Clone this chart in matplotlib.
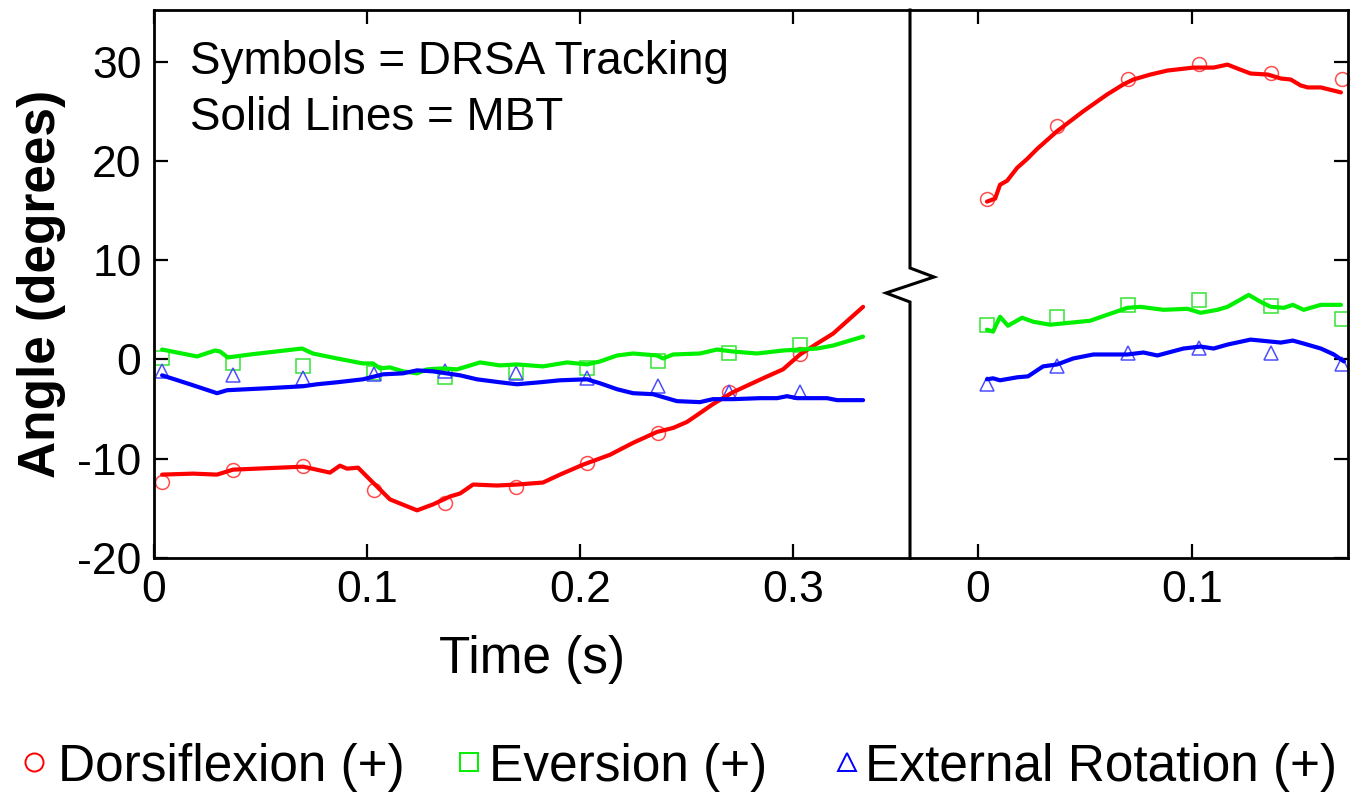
import matplotlib
matplotlib.use("Agg")
import matplotlib.pyplot as plt
from matplotlib.lines import Line2D

plt.rcParams['font.family'] = ['Liberation Sans', 'DejaVu Sans']
plt.rcParams['axes.unicode_minus'] = False

# ---------------- data: left segment (MBT lines) ----------------
t_dors_L = [0.0038, 0.0183, 0.0296, 0.0371, 0.0700, 0.0826, 0.0873, 0.0906, 0.0958, 0.1023,
            0.1061, 0.1108, 0.1235, 0.1310, 0.1390, 0.1437, 0.1498, 0.1610, 0.1704, 0.1826,
            0.1906, 0.2014, 0.2141, 0.2249, 0.2362, 0.2437, 0.2502, 0.2577, 0.2624, 0.2718,
            0.2859, 0.2953, 0.3033, 0.3113, 0.3188, 0.3329]
dors_L = [-11.6, -11.5, -11.6, -11.1, -10.8, -11.4, -10.7, -11.0, -10.9, -12.3,
          -13.1, -14.1, -15.2, -14.6, -13.8, -13.5, -12.6, -12.7, -12.6, -12.4,
          -11.6, -10.6, -9.6, -8.4, -7.3, -6.9, -6.3, -5.2, -4.5, -3.3,
          -1.9, -1.0, 0.5, 1.6, 2.6, 5.3]

t_ever_L = [0.0038, 0.0202, 0.0286, 0.0310, 0.0347, 0.0451, 0.0695, 0.0746, 0.0859, 0.0981,
            0.1028, 0.1061, 0.1108, 0.1169, 0.1235, 0.1282, 0.1357, 0.1423, 0.1531, 0.1624,
            0.1704, 0.1826, 0.1939, 0.2033, 0.2094, 0.2174, 0.2249, 0.2362, 0.2390, 0.2437,
            0.2563, 0.2643, 0.2718, 0.2831, 0.2953, 0.3113, 0.3188, 0.3329]
ever_L = [1.0, 0.3, 0.9, 0.8, 0.2, 0.5, 1.1, 0.6, 0.1, -0.4,
          -0.4, -0.9, -0.8, -1.2, -1.4, -1.0, -0.9, -1.0, -0.3, -0.6,
          -0.5, -0.7, -0.3, -0.5, -0.2, 0.4, 0.6, 0.4, 0.1, 0.5,
          0.6, 1.0, 0.8, 0.6, 0.9, 1.1, 1.4, 2.3]

t_extr_L = [0.0038, 0.0169, 0.0296, 0.0343, 0.0531, 0.0700, 0.0765, 0.0859, 0.0981, 0.1075,
            0.1169, 0.1235, 0.1310, 0.1437, 0.1516, 0.1624, 0.1704, 0.1812, 0.1906, 0.2033,
            0.2094, 0.2174, 0.2249, 0.2343, 0.2455, 0.2563, 0.2624, 0.2718, 0.2845, 0.2925,
            0.2972, 0.3019, 0.3160, 0.3207, 0.3329]
extr_L = [-1.6, -2.5, -3.4, -3.1, -2.9, -2.7, -2.5, -2.3, -2.0, -1.5,
          -1.4, -1.1, -1.2, -1.6, -2.0, -2.3, -2.5, -2.3, -2.1, -2.0,
          -2.4, -3.0, -3.4, -3.5, -4.2, -4.3, -4.0, -4.0, -3.9, -3.9,
          -3.7, -3.9, -3.9, -4.1, -4.1]

# ---------------- data: left segment (DRSA symbols) ----------------
t_sym_L = [0.0038, 0.0371, 0.0700, 0.1033, 0.1366, 0.1700, 0.2033, 0.2366, 0.2700, 0.3033]
dors_sym_L = [-12.3, -11.1, -10.7, -13.1, -14.5, -12.8, -10.4, -7.4, -3.3, 0.5]
ever_sym_L = [0.1, -0.4, -0.7, -1.4, -1.8, -1.3, -0.9, -0.2, 0.7, 1.5]
extr_sym_L = [-1.2, -1.6, -1.9, -1.5, -1.2, -1.4, -1.9, -2.7, -3.3, -3.3]

# ---------------- data: right segment (MBT lines) ----------------
t_dors_R = [0.0042, 0.0080, 0.0103, 0.0136, 0.0183, 0.0230, 0.0276, 0.0370, 0.0492, 0.0604,
            0.0679, 0.0726, 0.0806, 0.0885, 0.1007, 0.1101, 0.1166, 0.1213, 0.1274, 0.1354,
            0.1415, 0.1461, 0.1508, 0.1541, 0.1602, 0.1696]
dors_R = [15.9, 16.2, 17.6, 18.0, 19.3, 20.2, 21.2, 23.0, 25.0, 26.7,
          27.7, 28.2, 28.7, 29.1, 29.4, 29.4, 29.7, 29.3, 28.8, 28.7,
          28.3, 28.2, 27.6, 27.4, 27.4, 26.9]

t_ever_R = [0.0042, 0.0070, 0.0103, 0.0140, 0.0206, 0.0258, 0.0337, 0.0524, 0.0604, 0.0698,
            0.0759, 0.0867, 0.0979, 0.1040, 0.1119, 0.1166, 0.1265, 0.1321, 0.1368, 0.1429,
            0.1471, 0.1522, 0.1602, 0.1696]
ever_R = [3.0, 2.8, 4.3, 3.4, 4.2, 3.8, 3.5, 3.9, 4.5, 5.2,
          5.3, 5.0, 5.1, 4.7, 5.0, 5.3, 6.5, 5.8, 5.3, 5.2,
          5.5, 5.0, 5.5, 5.5]

t_extr_R = [0.0042, 0.0070, 0.0103, 0.0183, 0.0234, 0.0304, 0.0370, 0.0445, 0.0539, 0.0698,
            0.0773, 0.0838, 0.0960, 0.1040, 0.1101, 0.1166, 0.1274, 0.1415, 0.1471, 0.1522,
            0.1602, 0.1663, 0.1710]
extr_R = [-2.0, -1.9, -2.1, -1.8, -1.7, -0.7, -0.5, 0.1, 0.5, 0.5,
          0.7, 0.4, 1.1, 1.3, 1.1, 1.5, 2.0, 1.7, 1.9, 1.6,
          1.1, 0.5, -0.2]

# ---------------- data: right segment (DRSA symbols) ----------------
t_sym_R = [0.0042, 0.0370, 0.0702, 0.1035, 0.1368, 0.1701]
dors_sym_R = [16.2, 23.5, 28.3, 29.8, 28.9, 28.3]
ever_sym_R = [3.5, 4.3, 5.5, 6.0, 5.4, 4.1]
extr_sym_R = [-2.5, -0.7, 0.6, 1.2, 0.6, -0.5]

series_names = ['Dorsiflexion (+)', 'Eversion (+)', 'External Rotation (+)']
line_colors = ['#FF0000', '#00F000', '#0000FF']
sym_colors = ['#FF4D4D', '#33E633', '#4D4DFF']
markers = ['o', 's', '^']

yticks = [-20, -10, 0, 10, 20, 30]
xticks_L = [0, 0.1, 0.2, 0.3]
xticks_R = [0, 0.1]

# ---------------- figure ----------------
W, H = 1357, 798
fig = plt.figure(figsize=(W / 100, H / 100), dpi=100)

x0, xdiv, x1 = 154, 910, 1348
ybot, ytop = 558, 10
axL = fig.add_axes([x0 / W, 1 - ybot / H, (xdiv - x0) / W, (ybot - ytop) / H])
axR = fig.add_axes([xdiv / W, 1 - ybot / H, (x1 - xdiv) / W, (ybot - ytop) / H])

FS = 32
FSL = 37
lw = 3.0
spw = 2.0

left_lines = [(t_dors_L, dors_L), (t_ever_L, ever_L), (t_extr_L, extr_L)]
left_syms = [dors_sym_L, ever_sym_L, extr_sym_L]
right_lines = [(t_dors_R, dors_R), (t_ever_R, ever_R), (t_extr_R, extr_R)]
right_syms = [dors_sym_R, ever_sym_R, extr_sym_R]

for i in range(3):
    axL.plot(t_sym_L, left_syms[i], linestyle='none', marker=markers[i], ms=10,
             mfc='none', mec=sym_colors[i], mew=1.1, zorder=2, clip_on=False)
    axL.plot(*left_lines[i], color=line_colors[i], lw=lw, zorder=3,
             solid_joinstyle='round', solid_capstyle='round')
    axR.plot(t_sym_R, right_syms[i], linestyle='none', marker=markers[i], ms=10,
             mfc='none', mec=sym_colors[i], mew=1.1, zorder=2, clip_on=False)
    axR.plot(*right_lines[i], color=line_colors[i], lw=lw, zorder=3,
             solid_joinstyle='round', solid_capstyle='round')

for ax in (axL, axR):
    ax.set_ylim(-20, 35.2)
    ax.set_yticks(yticks)
    for s in ax.spines.values():
        s.set_linewidth(spw)
    ax.tick_params(direction='in', length=10, width=1.6, labelsize=FS, pad=9)

axL.set_xlim(0, (xdiv - x0) / 2130)
axL.set_xticks(xticks_L)
axL.set_xticklabels(['0', '0.1', '0.2', '0.3'])
axL.spines['right'].set_visible(False)
axL.tick_params(top=True, bottom=True, left=True, right=False, labelleft=True)

axR.set_xlim((xdiv - 978) / 2140, (x1 - 978) / 2140)
axR.set_xticks(xticks_R)
axR.set_xticklabels(['0', '0.1'])
axR.spines['left'].set_visible(False)
axR.tick_params(top=True, bottom=True, left=False, right=True,
                labelleft=False, labelright=False)

axL.set_xlabel('Time (s)', fontsize=FSL, labelpad=17)
axL.set_ylabel('Angle (degrees)', fontsize=FSL, fontweight='bold', labelpad=8)

axL.text(190 / W, 1 - 62 / H, 'Symbols = DRSA Tracking', transform=fig.transFigure,
         fontsize=33, va='center', ha='left')
axL.text(190 / W, 1 - 118 / H, 'Solid Lines = MBT', transform=fig.transFigure,
         fontsize=33, va='center', ha='left')

# divider with break mark
px = [910, 910, 934, 886, 910, 910]
py = [10, 268, 277, 293, 302, 558]
fig.add_artist(Line2D([p / W for p in px], [1 - p / H for p in py],
                      transform=fig.transFigure, color='black', lw=2.2,
                      solid_joinstyle='miter'))

# legend (manually laid out, as in the reference)
leg_marker_x = [34, 469, 847]
leg_text_x = [58, 489, 865]
leg_y = 1 - 762 / H
for i in range(3):
    fig.add_artist(Line2D([leg_marker_x[i] / W], [leg_y], transform=fig.transFigure,
                          linestyle='none', marker=markers[i], ms=13, mfc='none',
                          mec=line_colors[i], mew=1.4))
    fig.text(leg_text_x[i] / W, leg_y, series_names[i], fontsize=FSL,
             ha='left', va='center_baseline')

fig.savefig('out.png', dpi=100)
